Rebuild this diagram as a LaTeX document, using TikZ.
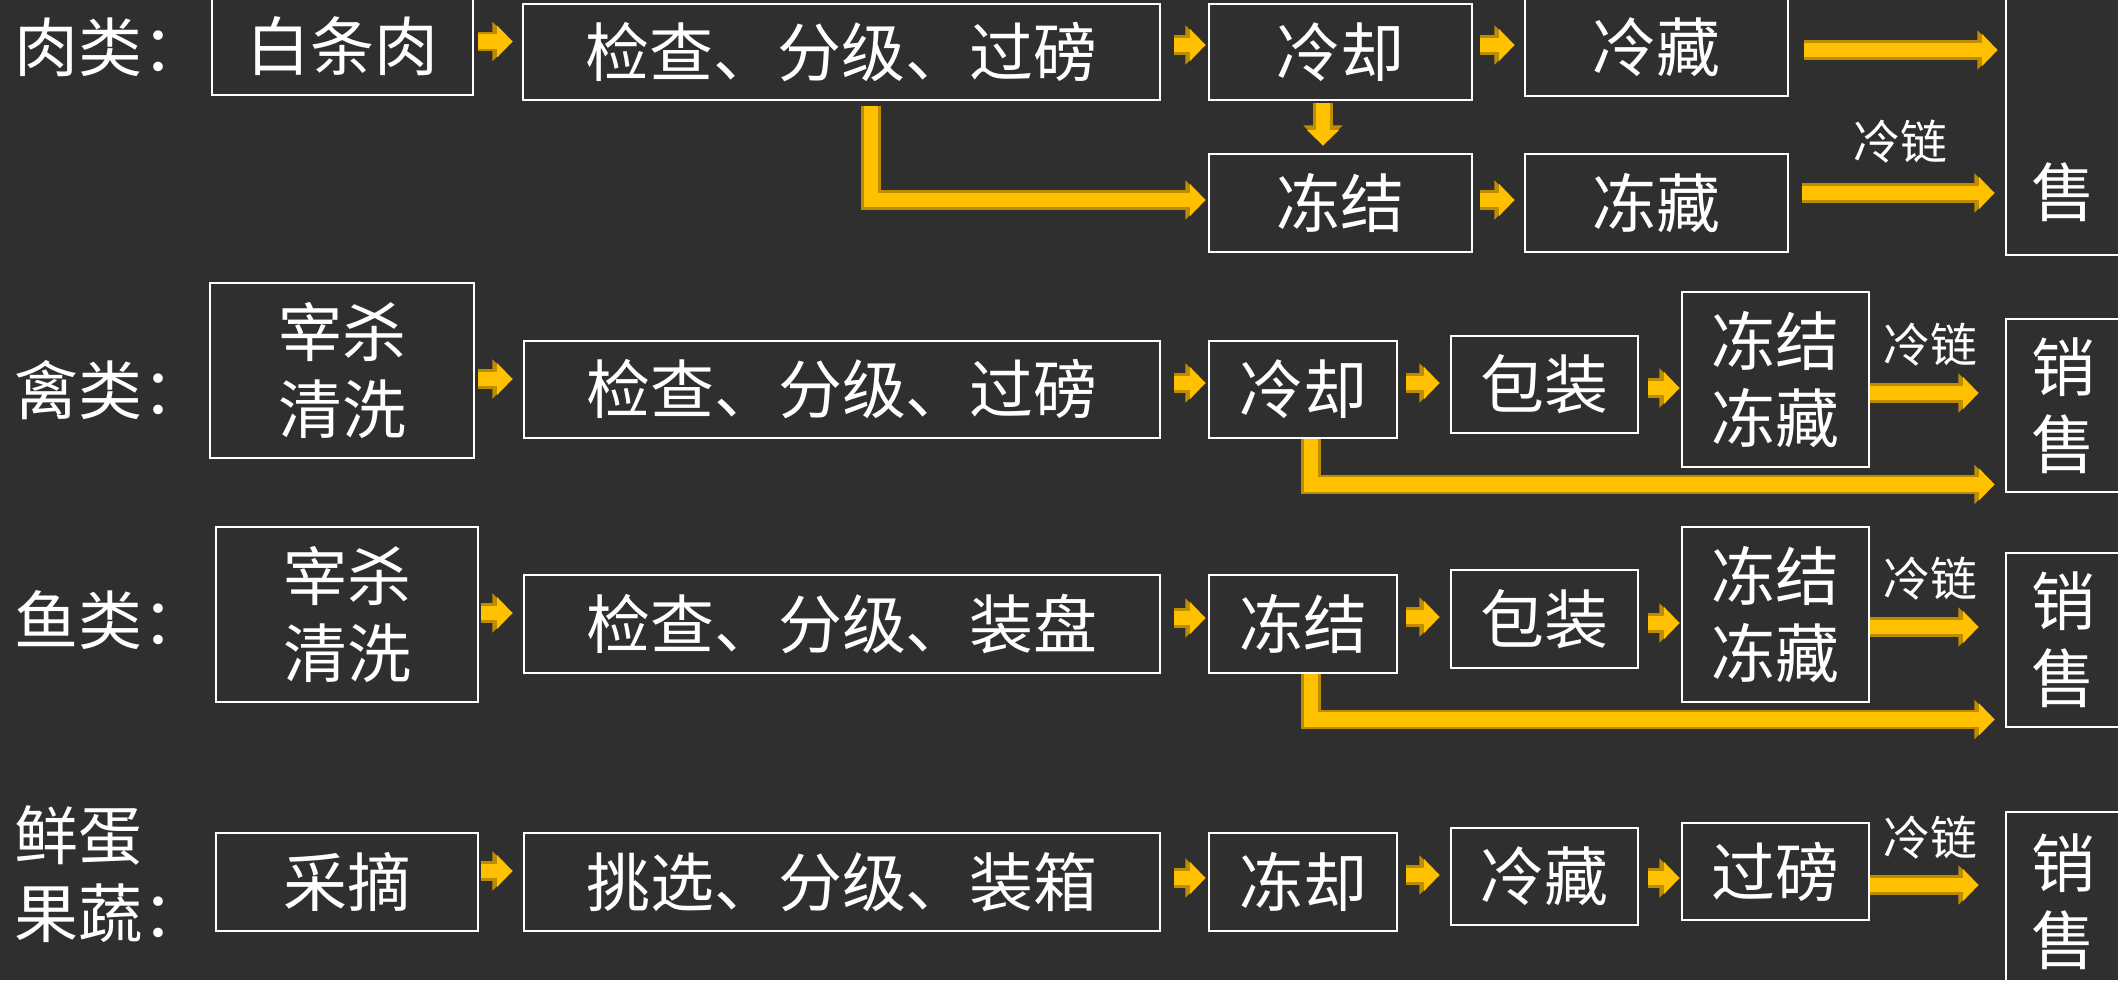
\documentclass[tikz,border=0pt]{standalone}
\usepackage{fontspec}
\newfontfamily\cjk{Noto Sans CJK SC}
\usetikzlibrary{arrows.meta,calc}
\definecolor{bg}{RGB}{47,47,47}
\definecolor{gold}{RGB}{255,192,0}
\definecolor{darkgold}{RGB}{190,140,0}
\tikzset{
  box/.style={draw=white, line width=1.2pt, text=white, inner sep=0pt, align=center,
    font=\cjk\fontsize{27.3}{33}\selectfont},
  lbl/.style={text=white, inner sep=0pt, anchor=west, align=left,
    font=\cjk\fontsize{27.3}{33}\selectfont},
  chainlbl/.style={text=white, inner sep=0pt, font=\cjk\fontsize{20}{24}\selectfont},
  blk/.style={draw=gold, line width=6.2pt, line join=miter,
    -{Triangle[length=6.6pt,width=13.2pt]},
    preaction={draw=darkgold, line width=8.4pt, line join=miter,
      -{Triangle[length=8.6pt,width=16.2pt]}}},
}
\newcommand\bx[6]{\node[box, minimum width={(#4-#2)*0.015cm}, minimum height={(#5-#3)*0.015cm}] (#1) at ({(#2+#4)/2},{(#3+#5)/2}) {#6};}
\newcommand\harr[5]{\draw[blk] ($(#1.east |- 0,#3)+(#4,0)$) -- ($(#2.west |- 0,#3)+(-#5,0)$);}
\begin{document}
\begin{tikzpicture}[x=0.015cm,y=-0.015cm]
\clip (0,0) rectangle (2118,980);
\fill[bg] (0,0) rectangle (2118,980);
% left labels
\node[lbl] (l1) at (14,47) {肉类：};
\node[lbl] (l2) at (14,390) {禽类：};
\node[lbl] (l3) at (14,620) {鱼类：};
\node[lbl] (l4) at (14,874) {鲜蛋\\果蔬：};
% row 1
\bx{r1a}{212}{-2}{473}{95}{白条肉}
\bx{r1b}{523}{4}{1160}{100}{检查、分级、过磅}
\bx{r1c}{1209}{4}{1472}{100}{冷却}
\bx{r1d}{1525}{-2}{1788}{96}{冷藏}
\bx{r1e}{1209}{154}{1472}{252}{冻结}
\bx{r1f}{1525}{154}{1788}{252}{冻藏}
\bx{r1s}{2006}{-10}{2120}{255}{}
\node[box, draw=none] (r1st) at (2063,192) {售};
\node[chainlbl] (c1) at (1900,142) {冷链};
% row 2
\bx{r2a}{210}{283}{474}{458}{宰杀\\清洗}
\bx{r2b}{524}{341}{1160}{438}{检查、分级、过磅}
\bx{r2c}{1209}{341}{1397}{438}{冷却}
\bx{r2d}{1451}{336}{1638}{433}{包装}
\bx{r2e}{1682}{292}{1869}{467}{冻结\\冻藏}
\bx{r2s}{2006}{319}{2120}{492}{销\\售}
\node[chainlbl] (c2) at (1930,345) {冷链};
% row 3
\bx{r3a}{216}{527}{478}{702}{宰杀\\清洗}
\bx{r3b}{524}{575}{1160}{673}{检查、分级、装盘}
\bx{r3c}{1209}{575}{1397}{673}{冻结}
\bx{r3d}{1451}{570}{1638}{668}{包装}
\bx{r3e}{1682}{527}{1869}{702}{冻结\\冻藏}
\bx{r3s}{2006}{553}{2120}{727}{销\\售}
\node[chainlbl] (c3) at (1930,579) {冷链};
% row 4
\bx{r4a}{216}{833}{478}{931}{采摘}
\bx{r4b}{524}{833}{1160}{931}{挑选、分级、装箱}
\bx{r4c}{1209}{833}{1397}{931}{冻却}
\bx{r4d}{1451}{828}{1638}{925}{冷藏}
\bx{r4e}{1682}{823}{1869}{920}{过磅}
\bx{r4s}{2006}{812}{2120}{992}{销\\售}
\node[chainlbl] (c4) at (1930,838) {冷链};
% arrows row 1
\harr{r1a}{r1b}{41.5}{4}{9}
\harr{r1b}{r1c}{45}{13}{2}
\harr{r1c}{r1d}{45}{7}{9}
\harr{r1d}{r1s}{50}{15}{7}
\harr{r1e}{r1f}{200}{7}{9}
\harr{r1f}{r1s}{193}{13}{10}
\draw[blk] ($(r1c.south)+(-17.5,2)$) -- ($(r1e.north)+(-17.5,-7)$);
\draw[blk] ($(r1b.south)+(29.5,5)$) |- ($(r1e.west)+(-2,-3)$);
% arrows row 2
\harr{r2a}{r2b}{379}{3}{10}
\harr{r2b}{r2c}{383}{13}{2}
\harr{r2c}{r2d}{383}{8}{10}
\harr{r2d}{r2e}{388}{9}{1}
\harr{r2e}{r2s}{393}{0}{26}
\draw[blk] ($(r2c.south)+(8,0)$) |- ($(r2s.south west)+(-10,-9)$);
% arrows row 3
\harr{r3a}{r3b}{613}{2}{10}
\harr{r3b}{r3c}{618}{13}{2}
\harr{r3c}{r3d}{617}{8}{10}
\harr{r3d}{r3e}{623}{9}{1}
\harr{r3e}{r3s}{627}{0}{26}
\draw[blk] ($(r3c.south)+(8,0)$) |- ($(r3s.south west)+(-10,-9)$);
% arrows row 4
\harr{r4a}{r4b}{871}{2}{10}
\harr{r4b}{r4c}{878}{13}{2}
\harr{r4c}{r4d}{875}{8}{10}
\harr{r4d}{r4e}{878}{9}{1}
\harr{r4e}{r4s}{885}{0}{26}
\end{tikzpicture}
\end{document}
